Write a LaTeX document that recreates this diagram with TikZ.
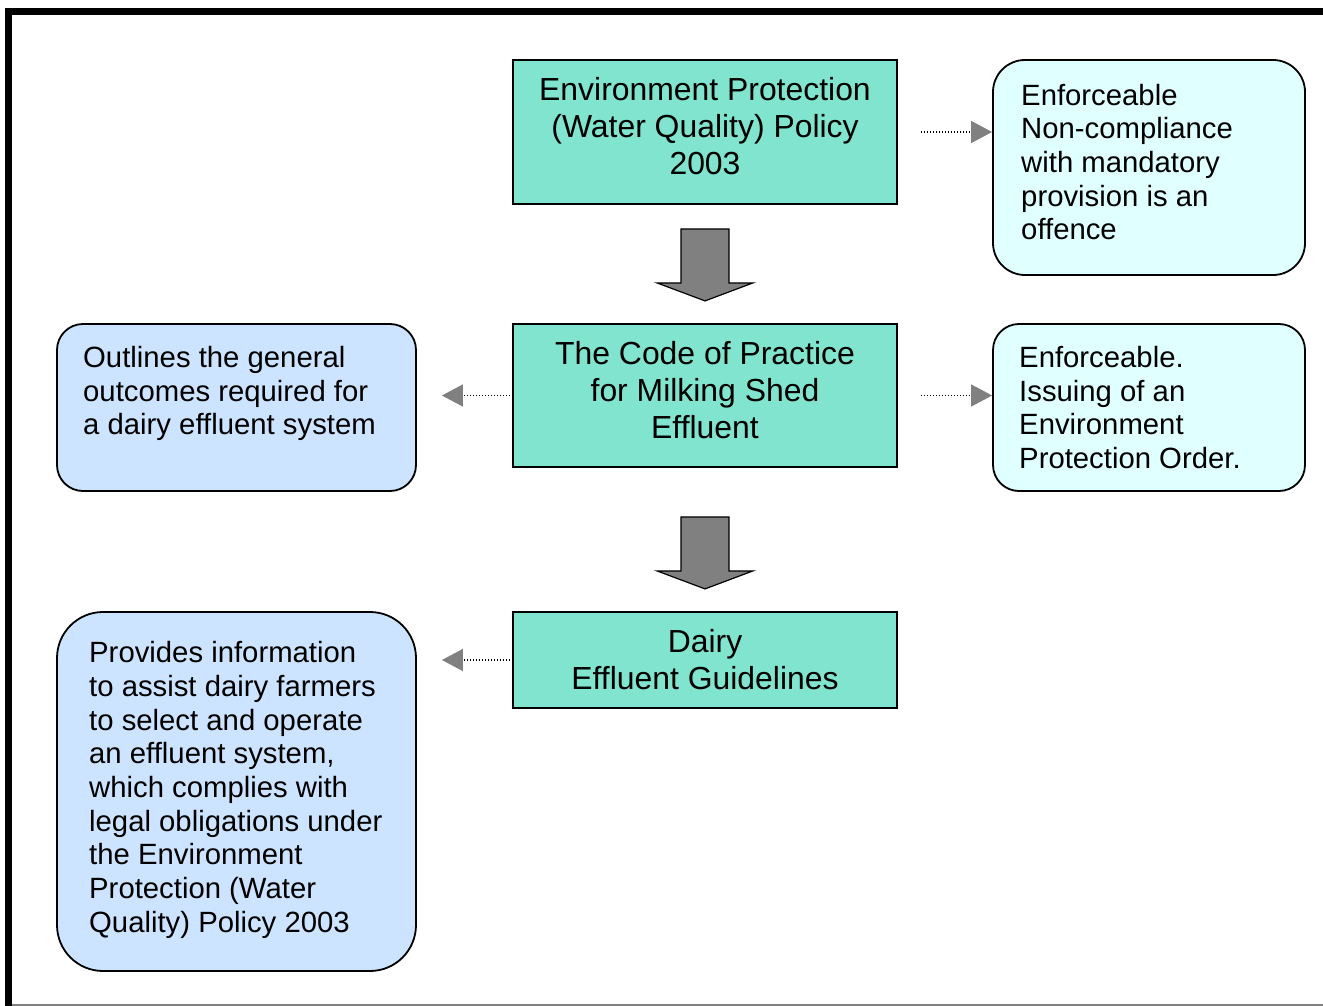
\documentclass[tikz,border=0pt]{standalone}
\usepackage{fontspec}
\setmainfont{Liberation Sans}
\usetikzlibrary{calc,arrows.meta}
\definecolor{teal1}{HTML}{80E4CE}
\definecolor{cyan1}{HTML}{E0FFFF}
\definecolor{blue1}{HTML}{CCE4FF}
\definecolor{arrgray}{HTML}{808080}
\tikzset{
  mainbox/.style={draw=black, line width=1.8pt, fill=teal1, rectangle,
    minimum width=384pt, minimum height=#1, inner sep=0pt},
  maintext/.style={align=center, inner sep=0pt, font=\fontsize{31.9}{37}\selectfont},
  sidebox/.style={draw=black, line width=1.8pt, rectangle, inner sep=0pt},
  sidetext/.style={align=left, inner sep=0pt, anchor=west, font=\fontsize{29.3}{33.7}\selectfont},
  blockarrow/.style={fill=arrgray, draw=black, line width=1.2pt, line join=miter},
  dotarrow/.style={black, line width=1.2pt, dash pattern=on 1.2pt off 1.8pt,
    -{Triangle[length=21pt,width=22pt,color=arrgray]}},
}
\begin{document}
\begin{tikzpicture}[x=1pt,y=-1pt]
\useasboundingbox (0,0) rectangle (1323,1006);
% frame
\draw[line width=7pt, line join=miter] (8.5,1006) -- (8.5,11.5) -- (1323,11.5);
\draw[arrgray, line width=1.5pt] (12,1005) -- (1323,1005);

% main boxes
\node[mainbox=144pt] (epp) at (705,132) {};
\node[maintext] (eppt) at (705,126) {Environment Protection\\(Water Quality) Policy\\2003};
\node[mainbox=143pt] (cop) at (705,395.5) {};
\node[maintext] (copt) at (705,390.5) {The Code of Practice\\for Milking Shed\\Effluent};
\node[mainbox=96pt] (deg) at (705,660) {};
\node[maintext] (degt) at (705,660) {Dairy\\Effluent Guidelines};

% side boxes
\node[sidebox, fill=cyan1, rounded corners=32pt, minimum width=312pt, minimum height=215pt]
  (enf1) at (1149,167.5) {};
\node[sidetext] (enf1t) at (1021,162) {Enforceable\\Non-compliance\\with mandatory\\provision is an\\offence};
\node[sidebox, fill=cyan1, rounded corners=26pt, minimum width=312pt, minimum height=167pt]
  (enf2) at (1149,407.5) {};
\node[sidetext] (enf2t) at (1019,407.5) {Enforceable.\\Issuing of an\\Environment\\Protection Order.};
\node[sidebox, fill=blue1, rounded corners=26pt, minimum width=359pt, minimum height=167pt]
  (outl) at (236.5,407.5) {};
\node[sidetext] (outlt) at (83,393.5) {Outlines the general\\outcomes required for\\a dairy effluent system};
\node[sidebox, fill=blue1, rounded corners=46pt, minimum width=359pt, minimum height=359pt]
  (prov) at (236.5,791.5) {};
\node[sidetext] (provt) at (89,790) {Provides information\\to assist dairy farmers\\to select and operate\\an effluent system,\\which complies with\\legal obligations under\\the Environment\\Protection (Water\\Quality) Policy 2003};

% block arrows
\coordinate (a1) at ($(epp.south)+(0,24)$);
\coordinate (a2) at ($(cop.south)+(0,49)$);
\draw[blockarrow] ($(a1)+(-24,0)$) -- ($(a1)+(24,0)$) -- ($(a1)+(24,54)$)
  -- ($(a1)+(48,54)$) -- ($(a1)+(0,72)$) -- ($(a1)+(-48,54)$)
  -- ($(a1)+(-24,54)$) -- cycle;
\draw[blockarrow] ($(a2)+(-24,0)$) -- ($(a2)+(24,0)$) -- ($(a2)+(24,54)$)
  -- ($(a2)+(48,54)$) -- ($(a2)+(0,72)$) -- ($(a2)+(-48,54)$)
  -- ($(a2)+(-24,54)$) -- cycle;

% dotted arrows
\draw[dotarrow] ($(epp.east)+(23,0)$) -- (enf1.west |- epp.east);
\draw[dotarrow] ($(cop.east)+(23,0)$) -- (enf2.west |- cop.east);
\draw[dotarrow] ($(cop.west)+(-2,0)$) -- ($(outl.east |- cop.west)+(25,0)$);
\draw[dotarrow] ($(deg.west)+(-2,0)$) -- ($(prov.east |- deg.west)+(25,0)$);
\end{tikzpicture}
\end{document}
